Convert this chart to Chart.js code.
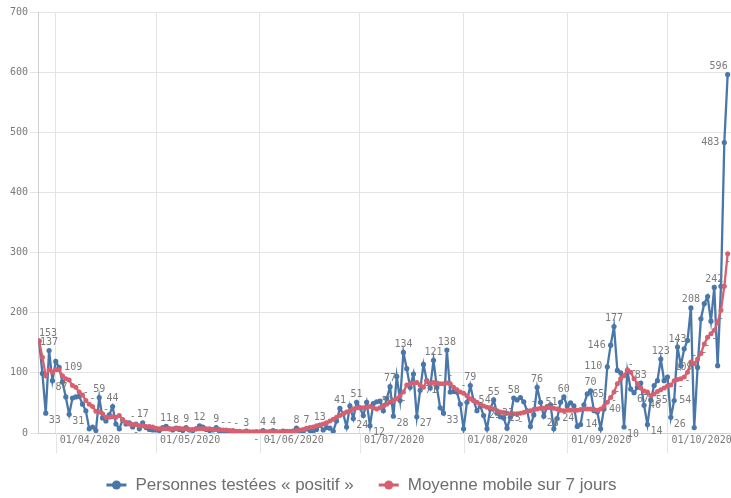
<!DOCTYPE html>
<html lang="fr">
<head>
<meta charset="utf-8">
<title>Personnes testées positif</title>
<script src="https://cdn.jsdelivr.net/npm/chart.js@4.4.1/dist/chart.umd.min.js"></script>
<style>
  html, body { margin: 0; padding: 0; background: #fff; overflow: hidden; }
  #wrap { width: 735px; height: 498px; }
</style>
</head>
<body>
<div id="wrap"><canvas id="myChart"></canvas></div>
<script>
// Premier jour de la série (index 0)
const dateDebut = new Date(2020, 2, 27);

// Personnes testées positives, un point par jour
const positif = [
  153, 99, 33, 137, 87, 119, 109, 85, 60, 31,
  58, 60, 61, 48, 37, 7, 10, 4, 59, 25,
  20, 30, 44, 15, 7, 22, 15, 17, 10, 15,
  7, 17, 9, 6, 5, 5, 4, 9, 11, 7,
  5, 8, 6, 4, 9, 5, 4, 7, 12, 10,
  6, 4, 5, 9, 3, 4, 2, 1, 3, 2,
  1, 0, 3, 1, 0, 2, 1, 4, 0, 2,
  4, 2, 1, 3, 2, 1, 3, 8, 3, 2,
  7, 4, 3, 6, 13, 5, 9, 8, 3, 20,
  41, 32, 10, 45, 24, 51, 42, 29, 51, 12,
  49, 52, 53, 37, 57, 77, 28, 94, 54, 134,
  107, 76, 98, 27, 71, 114, 87, 75, 121, 76,
  42, 33, 138, 68, 69, 68, 48, 7, 51, 79,
  54, 37, 45, 29, 7, 40, 55, 33, 27, 25,
  8, 26, 58, 55, 59, 52, 37, 11, 30, 76,
  51, 28, 44, 47, 7, 24, 51, 60, 45, 50,
  45, 11, 14, 47, 65, 70, 37, 35, 7, 40,
  110, 146, 177, 104, 100, 10, 103, 73, 67, 76,
  83, 46, 14, 55, 79, 87, 123, 87, 93, 26,
  54, 143, 112, 140, 154, 208, 9, 109, 190, 215,
  227, 186, 242, 112, 244, 483, 596
];

// Moyenne mobile sur 7 jours
const moyenne7j = [
  153, 126, 95, 105, 101, 105, 105, 95, 90, 88,
  79, 76, 68, 63, 54, 48, 44, 36, 35, 32,
  26, 26, 27, 26, 29, 22, 18, 15, 14, 14,
  12, 12, 11, 11, 10, 8, 7, 7, 7, 7,
  7, 7, 8, 7, 7, 6, 6, 7, 7, 7,
  7, 7, 6, 6, 6, 5, 5, 4, 4, 3,
  3, 2, 2, 2, 2, 2, 2, 2, 2, 2,
  2, 2, 2, 2, 3, 3, 3, 4, 5, 6,
  8, 9, 10, 12, 13, 15, 17, 20, 23, 26,
  29, 32, 35, 37, 40, 42, 42, 42, 43, 44,
  42, 40, 42, 45, 48, 51, 54, 57, 62, 68,
  80, 82, 83, 84, 80, 76, 87, 82, 84, 83,
  82, 82, 83, 82, 76, 72, 68, 66, 62, 57,
  54, 51, 48, 45, 43, 42, 40, 37, 35, 34,
  33, 32, 32, 32, 33, 34, 36, 37, 39, 40,
  41, 41, 42, 42, 41, 40, 38, 37, 38, 38,
  38, 38, 39, 40, 40, 40, 39, 38, 40, 44,
  51, 59, 68, 82, 90, 95, 105, 101, 90, 82,
  75, 70, 68, 62, 65, 69, 72, 75, 78, 80,
  87, 89, 90, 93, 101, 118, 115, 123, 132, 148,
  159, 165, 171, 184, 204, 244, 298
];

// Graduations de l'axe des dates
const datesAxe = ["01/04/2020", "01/05/2020", "01/06/2020", "01/07/2020", "01/08/2020", "01/09/2020", "01/10/2020"];

// Jours dont la valeur est affichée (série bleue) et tirets affichés (moyenne)
const joursEtiquetes = [0, 2, 3, 4, 6, 9, 18, 22, 31, 38, 41, 44, 48, 53, 62, 67, 70, 77, 80, 84,
  90, 94, 95, 99, 101, 105, 106, 109, 113, 114, 118, 121, 122, 129, 130, 133, 136, 137, 139, 142,
  149, 150, 151, 155, 157, 162, 164, 165, 169, 170, 171, 172, 175, 178, 180, 181, 182, 183, 186,
  189, 190, 191, 195, 197, 202, 205, 206];
const joursTirets = [12, 14, 16, 20, 28, 29, 55, 57, 59, 65, 69, 109, 120, 123, 127, 144, 148, 169,
  172, 173, 177, 178, 192, 194, 196, 199, 200, 202, 204, 206];

const libelles = ["Personnes testées « positif »", "Moyenne mobile sur 7 jours"];

const BLEU = "#4a77aa";
const ROUGE = "#d6606f";
const GRIS = "#7a7a7a";
const GRILLE = "#e4e4e4";
const MONO = '"DejaVu Sans Mono", monospace';

function indexDuJour(texte) {
  const [j, m, a] = texte.split("/").map(Number);
  return Math.round((new Date(a, m - 1, j) - dateDebut) / 86400000);
}

// Prolonge les lignes verticales des dates sous l'axe
const reperesPlugin = {
  id: "reperes",
  beforeDatasetsDraw(chart) {
    const c = chart.ctx;
    const axeX = chart.scales.x;
    const bas = chart.chartArea.bottom;
    c.save();
    c.strokeStyle = GRILLE;
    c.lineWidth = 1;
    axeX.ticks.forEach((t) => {
      const px = Math.round(axeX.getPixelForValue(t.value)) + 0.5;
      c.beginPath();
      c.moveTo(px, bas);
      c.lineTo(px, bas + 20);
      c.stroke();
    });
    c.restore();
  },
};

// Étiquettes de valeurs à côté des points
const etiquettesPlugin = {
  id: "etiquettes",
  afterDatasetsDraw(chart) {
    const c = chart.ctx;
    const metaBleu = chart.getDatasetMeta(0);
    const metaRouge = chart.getDatasetMeta(1);
    const dernier = positif.length - 1;
    c.save();
    c.font = "10px " + MONO;
    c.fillStyle = GRIS;

    joursEtiquetes.forEach((i) => {
      const pt = metaBleu.data[i];
      if (!pt) return;
      const v = positif[i];
      const avant = i > 0 ? positif[i - 1] : v;
      const apres = i < dernier ? positif[i + 1] : v;
      let x = pt.x, y = pt.y;
      if (v >= avant && v >= apres) {
        // sommet : au-dessus (décalé vers l'intérieur aux extrémités)
        c.textAlign = i === 0 ? "left" : i === dernier ? "right" : "center";
        c.textBaseline = "bottom";
        y -= 3;
      } else if (v <= avant && v <= apres) {
        c.textAlign = "left"; c.textBaseline = "top"; x += 3; y += 2;
      } else if (v > 100 && apres > v) {
        c.textAlign = "right"; c.textBaseline = "middle"; x -= 5;
      } else {
        c.textAlign = "left"; c.textBaseline = "middle"; x += 5;
      }
      c.fillText(String(v), x, y);
    });

    c.textAlign = "center";
    joursTirets.forEach((i) => {
      const pt = metaRouge.data[i];
      if (!pt) return;
      if (positif[i] < moyenne7j[i]) {
        c.textBaseline = "bottom";
        c.fillText("-", pt.x, pt.y - 3);
      } else {
        c.textBaseline = "top";
        c.fillText("-", pt.x, pt.y + 3);
      }
    });
    c.restore();
  },
};

// Légende dessinée sous le graphique
const legendePlugin = {
  id: "legende",
  afterDraw(chart) {
    const c = chart.ctx;
    const couleurs = [BLEU, ROUGE];
    c.save();
    c.font = '17px "Liberation Sans Narrow", "Liberation Sans", sans-serif';
    c.textBaseline = "middle";
    c.textAlign = "left";
    const larg = libelles.map((t) => c.measureText(t).width);
    const total = larg[0] + larg[1] + 2 * (20 + 9) + 25;
    let x = 361.5 - total / 2;
    const y = 485;
    libelles.forEach((t, k) => {
      c.strokeStyle = couleurs[k];
      c.fillStyle = couleurs[k];
      c.lineWidth = 3;
      c.beginPath();
      c.moveTo(x, y);
      c.lineTo(x + 20, y);
      c.stroke();
      c.beginPath();
      c.arc(x + 10, y, 4.5, 0, Math.PI * 2);
      c.fill();
      c.fillStyle = "#6e6e6e";
      c.fillText(t, x + 29, y);
      x += 29 + larg[k] + 25;
    });
    c.restore();
  },
};

function main() {
  const ctx = document.getElementById("myChart").getContext("2d");
  const police = { family: MONO, size: 10 };

  new Chart(ctx, {
    type: "line",
    data: {
      datasets: [
        {
          label: libelles[0],
          data: positif.map((v, i) => ({ x: i, y: v })),
          borderColor: BLEU,
          backgroundColor: BLEU,
          borderWidth: 2.3,
          pointRadius: 2.6,
          pointBorderWidth: 0,
          pointBackgroundColor: BLEU,
          order: 2,
        },
        {
          label: libelles[1],
          data: moyenne7j.map((v, i) => ({ x: i, y: v })),
          borderColor: ROUGE,
          backgroundColor: ROUGE,
          borderWidth: 2.3,
          pointRadius: 2.5,
          pointBorderWidth: 0,
          pointBackgroundColor: ROUGE,
          order: 1,
        },
      ],
    },
    options: {
      responsive: true,
      maintainAspectRatio: false,
      animation: false,
      layout: { padding: { left: 8, top: 12, right: 0, bottom: 51 } },
      plugins: {
        legend: { display: false },
        tooltip: { enabled: false },
      },
      scales: {
        x: {
          type: "linear",
          min: -0.3,
          max: 207,
          afterBuildTicks: (axis) => {
            axis.ticks = datesAxe.map((t) => ({ value: indexDuJour(t) }));
          },
          ticks: {
            callback: (v, idx) => datesAxe[idx],
            align: "start",
            labelOffset: 4,
            padding: 1,
            autoSkip: false,
            maxRotation: 0,
            color: GRIS,
            font: police,
          },
          grid: { color: GRILLE, drawTicks: false },
          border: { color: "#d0d0d0" },
        },
        y: {
          min: 0,
          max: 700,
          ticks: { stepSize: 100, padding: 2, color: GRIS, font: police },
          grid: { color: GRILLE, tickLength: 8 },
          border: { color: "#d0d0d0" },
        },
      },
    },
    plugins: [reperesPlugin, etiquettesPlugin, legendePlugin],
  });
}

document.addEventListener("DOMContentLoaded", main);
</script>
</body>
</html>
